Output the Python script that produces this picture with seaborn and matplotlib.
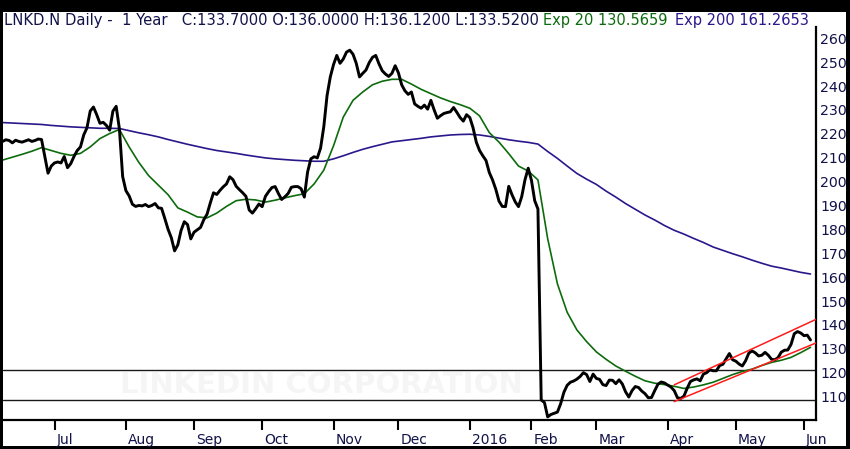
import numpy as np
import pandas as pd
import seaborn as sns
import matplotlib.pyplot as plt
import matplotlib.transforms as mtransforms
from matplotlib.patches import Rectangle

sns.set_theme(style="white")
plt.rcParams['font.family'] = ['DejaVu Sans']

# trading calendar (NYSE holidays inside the window)
first_day = "2015-06-09"
last_day = "2016-06-07"
market_holidays = ["2015-07-03", "2015-09-07", "2015-11-26", "2015-12-25",
                   "2016-01-01", "2016-01-18", "2016-02-15", "2016-03-25",
                   "2016-05-30"]

# daily close, one value per session from first_day
close = [
    216.8, 217.5, 217.2, 216.2, 217.3, 216.8, 216.5, 217.0, 217.5, 216.8,
    217.2, 217.8, 217.6, 210.5, 203.5, 206.5, 207.8, 208.2, 207.8, 210.5,
    205.8, 207.5, 210.5, 213.0, 214.5, 219.5, 222.5, 229.5, 231.2, 228.0,
    224.4, 224.8, 223.5, 221.5, 229.5, 231.5, 222.0, 202.1, 196.2, 194.0,
    190.5, 189.6, 190.0, 189.8, 190.4, 189.5, 190.0, 190.8, 189.0, 188.8,
    184.5, 180.0, 176.5, 171.0, 173.5, 179.5, 183.2, 182.0, 176.0, 178.8,
    179.8, 180.8, 184.0, 186.3, 191.0, 195.3, 194.6, 196.3, 197.8, 199.0,
    202.0, 200.8, 198.0, 196.6, 195.3, 193.8, 188.1, 186.8, 188.6, 190.6,
    189.5, 193.8, 195.8, 197.5, 197.9, 195.0, 192.5, 193.6, 195.0, 197.6,
    197.9, 197.9, 197.0, 193.5, 204.0, 209.5, 210.4, 209.9, 214.0, 223.0,
    236.0, 243.8, 249.0, 252.8, 249.5, 251.3, 254.2, 255.0, 253.3, 249.5,
    243.8, 245.3, 246.7, 249.8, 252.0, 252.8, 249.3, 246.4, 245.0, 244.0,
    245.3, 248.5, 245.5, 240.5, 238.0, 236.5, 237.5, 232.5, 231.5, 230.7,
    232.0, 230.3, 234.0, 230.0, 226.5, 227.6, 228.5, 228.9, 229.2, 231.0,
    229.0, 226.8, 225.3, 228.0, 226.8, 222.5, 216.5, 213.0, 210.8, 208.8,
    203.8, 200.7, 196.8, 191.8, 189.6, 189.5, 198.0, 194.5, 191.5, 189.5,
    193.7, 200.7, 205.6, 200.5, 192.0, 188.5, 108.6, 107.5, 101.5, 102.5,
    103.0, 103.5, 107.0, 111.8, 114.7, 116.0, 116.5, 117.3, 118.4, 120.0,
    119.2, 116.3, 119.4, 117.6, 117.2, 115.0, 114.6, 116.9, 116.8, 115.4,
    117.0, 115.3, 112.0, 109.8, 112.5, 114.2, 113.8, 112.3, 111.2, 109.5,
    109.6, 112.5, 115.2, 116.1, 115.7, 114.8, 114.0, 112.5, 109.5, 109.2,
    110.2, 113.5, 116.3, 117.0, 117.4, 116.6, 119.4, 120.0, 121.2, 120.8,
    120.8, 123.0, 123.5, 125.8, 128.0, 125.4, 124.8, 123.6, 122.8, 125.0,
    128.2, 129.1, 128.3, 127.0, 127.3, 128.5, 127.3, 125.6, 125.4, 126.3,
    128.6, 129.4, 129.5, 131.8, 136.3, 137.2, 136.6, 135.5, 135.7, 133.7,
]

# moving averages, every 3rd session
ema_step = 3
ema20 = [
    209.0, 210.2, 211.4, 212.7, 214.2, 213.0, 211.8, 211.0, 211.8, 214.5,
    218.0, 220.1, 221.8, 214.5, 208.0, 202.5, 198.5, 194.5, 189.0, 187.2,
    185.2, 184.8, 186.8, 189.6, 192.0, 192.6, 192.3, 191.4, 192.2, 193.2,
    194.1, 194.9, 199.0, 204.8, 215.0, 227.0, 234.0, 237.5, 240.5, 242.0,
    242.8, 242.8, 240.8, 238.6, 236.8, 235.0, 233.5, 232.2, 230.7, 227.5,
    220.5, 216.5, 211.7, 206.5, 204.4, 200.7, 176.1, 157.2, 145.3, 137.9,
    133.0, 128.7, 125.6, 122.8, 120.6, 118.5, 116.6, 115.6, 115.0, 114.3,
    113.4, 114.0, 114.9, 116.0, 117.6, 119.2, 120.5, 121.5, 123.0, 124.3,
    125.2, 126.4, 128.4, 130.6,
]
ema200 = [
    224.7, 224.5, 224.3, 224.1, 223.9, 223.5, 223.2, 222.9, 222.7, 222.5,
    222.3, 222.3, 222.2, 221.3, 220.4, 219.6, 218.7, 217.6, 216.6, 215.6,
    214.7, 213.8, 213.0, 212.4, 211.8, 211.1, 210.5, 209.9, 209.5, 209.2,
    208.9, 208.7, 208.5, 208.5, 209.5, 210.8, 212.2, 213.5, 214.6, 215.6,
    216.6, 217.1, 217.6, 218.1, 218.7, 219.1, 219.5, 219.7, 219.8, 219.5,
    218.9, 218.2, 217.5, 216.9, 216.4, 215.7, 212.6, 209.7, 206.5, 203.4,
    201.0, 198.8, 196.0, 193.5, 190.8, 188.4, 186.0, 183.9, 181.6, 179.6,
    178.0, 176.2, 174.5, 172.6, 171.2, 169.8, 168.5, 167.1, 165.8, 164.6,
    163.8, 162.9, 162.0, 161.3,
]

# drawn levels and trend channel
levels = [121.0, 108.6]
channel_dates = ["2016-04-05", "2016-06-07"]
channel_low = [107.9, 132.6]
channel_high = [114.9, 142.5]

title_main = "LNKD.N Daily -  1 Year   C:133.7000 O:136.0000 H:136.1200 L:133.5200"
title_ema20 = "Exp 20 130.5659"
title_ema200 = "Exp 200 161.2653"
watermark = "LINKEDIN CORPORATION"

navy = "#12124a"
green = "#0d6b0d"
purple = "#2c168c"

sessions = pd.bdate_range(first_day, last_day, freq="C", holidays=market_holidays)
prices = pd.DataFrame({"session": np.arange(len(close)), "close": close})
emas = pd.DataFrame({"session": np.arange(0, len(close), ema_step),
                     "ema20": ema20, "ema200": ema200})
chan_pos = sessions.get_indexer(pd.to_datetime(channel_dates))

fig = plt.figure(figsize=(8.5, 4.49), dpi=100, facecolor="black")
fig.patches.append(Rectangle((3 / 850, 3 / 449), 843 / 850, 434 / 449,
                             transform=fig.transFigure, facecolor="white",
                             edgecolor="none", zorder=-10))
ax = fig.add_axes([3 / 850, 29.5 / 449, 813 / 850, 392.5 / 449])
ax.set_facecolor("white")

ax.text(0.392, 0.088, watermark, transform=ax.transAxes, ha="center", va="center",
        fontsize=21, fontweight="bold", color="#f5f5f5", zorder=0)
for lv in levels:
    ax.axhline(lv, color="#1a1a1a", lw=1.0, zorder=1)

sns.lineplot(data=emas, x="session", y="ema200", ax=ax, color=purple, lw=1.2,
             estimator=None, zorder=2)
sns.lineplot(data=emas, x="session", y="ema20", ax=ax, color=green, lw=1.2,
             estimator=None, zorder=2)
sns.lineplot(data=prices, x="session", y="close", ax=ax, color="black", lw=2.1,
             estimator=None, zorder=3)
ax.plot(chan_pos, channel_low, color="#ff1a1a", lw=1.1, zorder=4)
ax.plot(chan_pos, channel_high, color="#ff1a1a", lw=1.1, zorder=4)

ax.set_xlim(0.12, 250.7)
ax.set_ylim(100.4, 264.7)
ax.set_xlabel("")
ax.set_ylabel("")

# month ticks at first session of each month
months = sessions.month
starts = [i for i in range(1, len(sessions)) if months[i] != months[i - 1]]
labels = [sessions[i].strftime("%Y") if sessions[i].month == 1 else sessions[i].strftime("%b")
          for i in starts]
ax.set_xticks(starts)
ax.set_xticklabels(labels)
ax.tick_params(axis="x", direction="out", length=7, width=1.5, color="black",
               pad=3, labelsize=10, labelcolor=navy, bottom=True)
offset = mtransforms.ScaledTranslation(2 / 100, 0, fig.dpi_scale_trans)
for lab in ax.get_xticklabels():
    lab.set_horizontalalignment("left")
    lab.set_transform(lab.get_transform() + offset)

ax.yaxis.tick_right()
ax.set_yticks(range(110, 261, 10))
ax.tick_params(axis="y", length=0, pad=3, labelsize=10.2, labelcolor=navy)

for side in ["left", "top"]:
    ax.spines[side].set_visible(False)
for side in ["right", "bottom"]:
    ax.spines[side].set_color("black")
    ax.spines[side].set_linewidth(1.6)

ty = 1 - 20 / 449
fig.text(4 / 850, ty, title_main, color=navy, fontsize=10.6, va="center")
fig.text(543 / 850, ty, title_ema20, color=green, fontsize=10.5, va="center")
fig.text(675 / 850, ty, title_ema200, color=purple, fontsize=10.5, va="center")

fig.savefig("out.png", dpi=100, facecolor="black")
